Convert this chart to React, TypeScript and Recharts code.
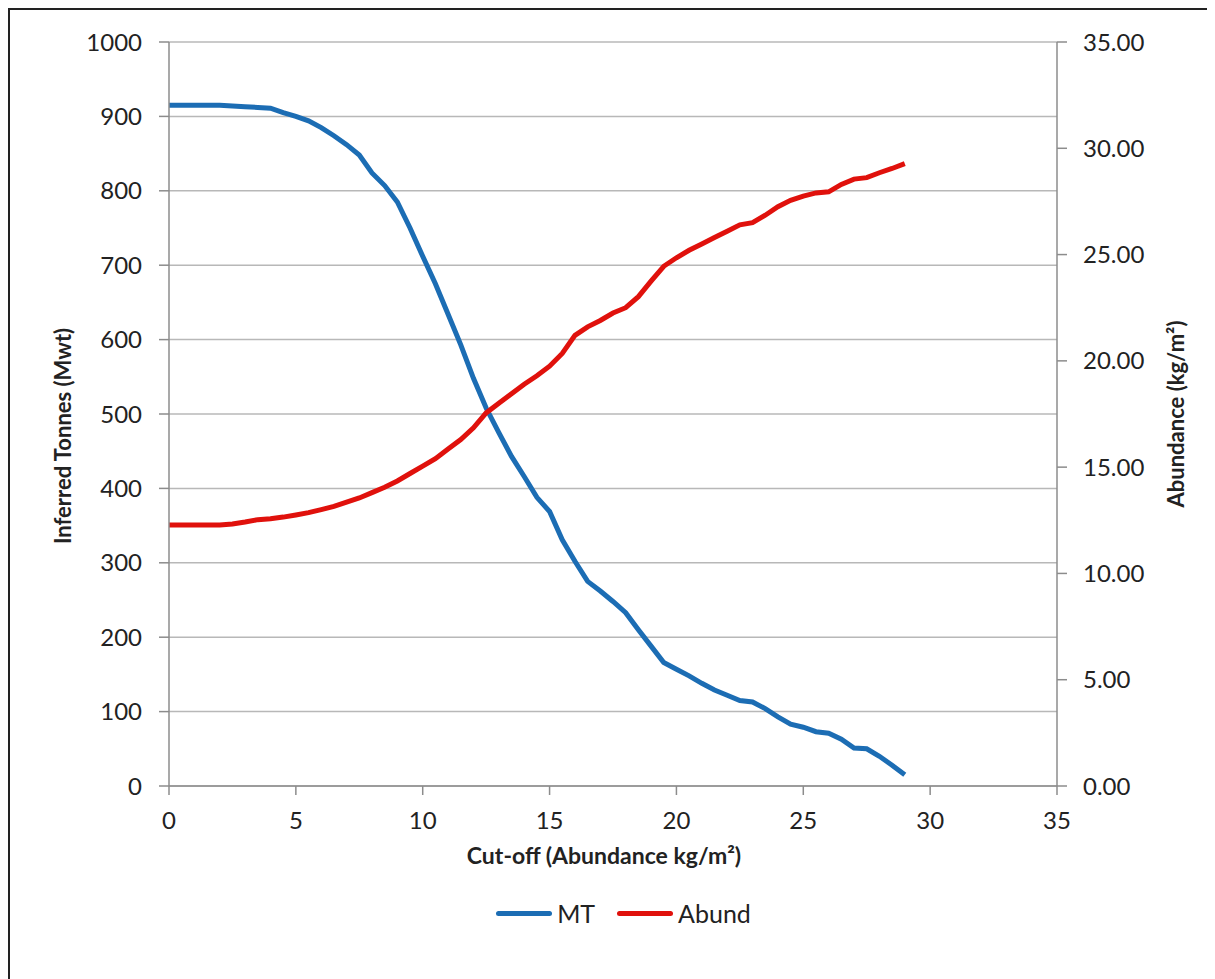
import {
  LineChart,
  Line,
  XAxis,
  YAxis,
  CartesianGrid,
  Legend,
} from 'recharts'

const cutoff = [
  0, 0.5, 1, 1.5, 2, 2.5, 3, 3.5, 4, 4.5, 5, 5.5, 6, 6.5, 7, 7.5, 8, 8.5, 9, 9.5,
  10, 10.5, 11, 11.5, 12, 12.5, 13, 13.5, 14, 14.5, 15, 15.5, 16, 16.5, 17, 17.5,
  18, 18.5, 19, 19.5, 20, 20.5, 21, 21.5, 22, 22.5, 23, 23.5, 24, 24.5, 25, 25.5,
  26, 26.5, 27, 27.5, 28, 28.5, 29,
]

const mt = [
  915, 915, 915, 915, 915, 914, 913, 912, 911, 905, 900, 894, 885, 874, 862, 848,
  824, 807, 785, 750, 712, 675, 634, 593, 548, 508, 475, 443, 416, 388, 369, 331,
  302, 275, 262, 248, 233, 210, 188, 166, 157, 148, 138, 129, 122, 115, 113, 104,
  93, 83, 79, 73, 71, 63, 51, 50, 40, 28, 15,
]

const abund = [
  12.28, 12.28, 12.28, 12.28, 12.28, 12.33, 12.42, 12.53, 12.57, 12.65, 12.75,
  12.86, 13.0, 13.15, 13.35, 13.55, 13.8, 14.05, 14.35, 14.7, 15.05, 15.4, 15.85,
  16.3, 16.85, 17.55, 18.0, 18.45, 18.9, 19.3, 19.75, 20.35, 21.2, 21.6, 21.9,
  22.25, 22.5, 23.02, 23.75, 24.45, 24.85, 25.2, 25.5, 25.8, 26.1, 26.4, 26.5,
  26.85, 27.25, 27.55, 27.75, 27.9, 27.95, 28.3, 28.55, 28.62, 28.85, 29.05, 29.28,
]

const xTicks = [0, 5, 10, 15, 20, 25, 30, 35]
const leftTicks = [0, 100, 200, 300, 400, 500, 600, 700, 800, 900, 1000]
const rightTicks = [0, 5, 10, 15, 20, 25, 30, 35]
const seriesOrder = ['MT', 'Abund']

const data = cutoff.map((c, i) => ({ cutoff: c, MT: mt[i], Abund: abund[i] }))

const FONT = 'Lato, "Open Sans", sans-serif'
const AXIS = '#8c8c8c'
const BLUE = '#1c6db4'
const RED = '#e0110c'

const tickStyle = { fill: '#222', fontSize: 24, fontFamily: FONT }

function LeftTitle({ viewBox }: any) {
  const cx = viewBox.x + 52
  const cy = viewBox.y + viewBox.height / 2 + 22
  return (
    <text
      x={cx}
      y={cy}
      transform={`rotate(-90 ${cx} ${cy})`}
      textAnchor="middle"
      dominantBaseline="central"
      fill="#222"
      fontFamily={FONT}
      fontWeight="bold"
      fontSize={22}
    >
      Inferred Tonnes (Mwt)
    </text>
  )
}

function RightTitle({ viewBox }: any) {
  const cx = viewBox.x + 118
  const cy = viewBox.y + viewBox.height / 2
  return (
    <text
      x={cx}
      y={cy}
      transform={`rotate(-90 ${cx} ${cy})`}
      textAnchor="middle"
      dominantBaseline="central"
      fill="#222"
      fontFamily={FONT}
      fontWeight="bold"
      fontSize={22}
    >
      Abundance (kg/m²)
    </text>
  )
}

function BottomTitle({ viewBox }: any) {
  const cx = viewBox.x + viewBox.width / 2 - 9
  const cy = viewBox.y + 69
  return (
    <text
      x={cx}
      y={cy}
      textAnchor="middle"
      dominantBaseline="central"
      fill="#222"
      fontFamily={FONT}
      fontWeight="bold"
      fontSize={23}
    >
      Cut-off (Abundance kg/m²)
    </text>
  )
}

function renderLegend({ payload }: any) {
  const items = [...(payload || [])].sort(
    (a: any, b: any) => seriesOrder.indexOf(a.value) - seriesOrder.indexOf(b.value)
  )
  return (
    <div
      style={{
        display: 'flex',
        justifyContent: 'center',
        alignItems: 'center',
        fontFamily: FONT,
        fontSize: 25,
        color: '#222',
        paddingLeft: 22,
      }}
    >
      {items.map((p: any) => (
        <div
          key={p.value}
          style={{ display: 'flex', alignItems: 'center', marginLeft: 11, marginRight: 11 }}
        >
          <span
            style={{
              display: 'inline-block',
              width: 56,
              height: 5,
              borderRadius: 3,
              background: p.color,
              marginRight: 5,
            }}
          />
          <span>{p.value}</span>
        </div>
      ))}
    </div>
  )
}

export default function App() {
  return (
    <div
      style={{
        width: 1207,
        height: 971,
        borderTop: '2px solid #222',
        borderLeft: '2px solid #222',
        boxSizing: 'border-box',
        background: '#fff',
      }}
    >
      <LineChart
        width={1205}
        height={960}
        data={data}
        margin={{ top: 32, right: 0, bottom: 104, left: 0 }}
      >
        <CartesianGrid
          yAxisId="left"
          vertical={false}
          stroke="#b8b8b8"
          strokeWidth={1.5}
        />
        <XAxis
          dataKey="cutoff"
          type="number"
          domain={[0, 35]}
          ticks={xTicks}
          height={80}
          axisLine={{ stroke: AXIS, strokeWidth: 1.5 }}
          tickLine={{ stroke: AXIS, strokeWidth: 1.5 }}
          tickSize={9}
          tickMargin={17}
          tick={tickStyle}
          label={<BottomTitle />}
        />
        <YAxis
          yAxisId="left"
          orientation="left"
          domain={[0, 1000]}
          ticks={leftTicks}
          width={159}
          axisLine={{ stroke: AXIS, strokeWidth: 1.5 }}
          tickLine={{ stroke: AXIS, strokeWidth: 1.5 }}
          tickSize={10}
          tickMargin={17}
          tick={tickStyle}
          label={<LeftTitle />}
        />
        <YAxis
          yAxisId="right"
          orientation="right"
          domain={[0, 35]}
          ticks={rightTicks}
          width={158}
          axisLine={{ stroke: AXIS, strokeWidth: 1.5 }}
          tickLine={{ stroke: AXIS, strokeWidth: 1.5 }}
          tickSize={10}
          tickMargin={16}
          tick={tickStyle}
          tickFormatter={(v: number) => v.toFixed(2)}
          label={<RightTitle />}
        />
        <Legend
          verticalAlign="middle"
          align="center"
          content={renderLegend}
          wrapperStyle={{ top: 888, left: 0, width: 1205 }}
        />
        <Line
          yAxisId="left"
          dataKey="MT"
          stroke={BLUE}
          strokeWidth={5}
          dot={false}
          type="linear"
          isAnimationActive={false}
        />
        <Line
          yAxisId="right"
          dataKey="Abund"
          stroke={RED}
          strokeWidth={5}
          dot={false}
          type="linear"
          isAnimationActive={false}
        />
      </LineChart>
    </div>
  )
}
